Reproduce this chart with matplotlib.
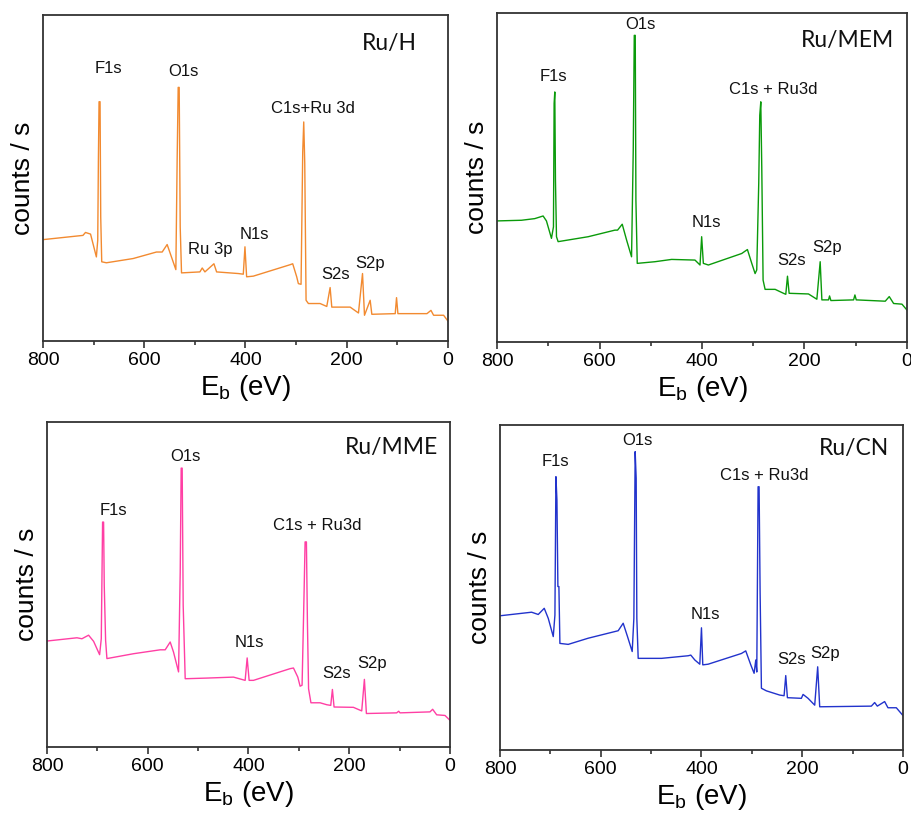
import matplotlib
matplotlib.use("Agg")
import matplotlib.pyplot as plt
from matplotlib.ticker import MultipleLocator

# ------------------ Survey spectra (traced, counts in a.u.) ------------------
h_ev = [800, 721, 716, 706, 694.5, 691.8, 690.5, 689.2, 687.2, 685.9, 683.9, 674.7,
        621.9, 575.8, 564.5, 554.7, 537.5, 534.9, 532.9, 530.9, 528.9, 526.3, 490.0,
        485.4, 480.1, 462.3, 457.0, 414.2, 404.3, 401.0, 397.7, 384.5, 312.0, 306.7,
        298.8, 295.5, 290.2, 286.9, 284.9, 282.9, 280.3, 275.7, 252.6, 239.4, 232.8,
        229.5, 193.2, 176.8, 168.8, 164.9, 153.7, 150.4, 104.2, 101.6, 98.9, 41.5,
        33.6, 28.4, 8.6, 0]
h_counts = [31.1, 32.4, 33.3, 32.8, 25.8, 30.9, 55.5, 73.4, 73.4, 38.1, 24.3, 24.0,
            25.3, 27.3, 27.3, 29.6, 21.9, 56.0, 77.8, 77.8, 35.0, 20.9, 21.2,
            22.4, 21.2, 23.7, 21.2, 20.7, 20.5, 28.9, 19.7, 19.9, 23.4, 23.7,
            19.7, 17.6, 17.4, 58.0, 67.2, 54.5, 12.5, 11.5, 11.5, 10.6, 16.4,
            10.4, 10.4, 8.6, 20.7, 7.9, 12.5, 8.2, 8.4, 13.3, 8.4, 8.4,
            9.4, 7.9, 7.9, 6.1]

mem_ev = [800, 752.4, 726.4, 710.1, 703.6, 693.8, 689.9, 688.6, 687.3, 686.0, 684.0,
          680.8, 622.1, 570.0, 564.8, 555.7, 547.2, 537.5, 534.2, 532.2, 530.3, 529.0,
          526.4, 491.9, 459.3, 413.7, 403.9, 400.7, 397.4, 387.6, 322.5, 311.4, 302.9,
          296.4, 293.2, 289.3, 287.3, 285.3, 283.4, 280.8, 276.9, 257.3, 241.0, 236.5,
          233.2, 230.0, 192.2, 175.9, 169.4, 166.1, 153.1, 151.1, 148.5, 104.2, 101.6,
          99.0, 42.4, 34.6, 26.1, 9.8, 0]
mem_counts = [36.8, 37.0, 37.5, 38.3, 36.8, 31.5, 35.0, 72.5, 76.0, 49.2, 32.0,
              30.5, 32.0, 34.0, 34.0, 35.8, 31.0, 25.9, 58.3, 93.2, 93.2, 43.1,
              23.9, 24.4, 25.1, 24.9, 23.4, 32.0, 23.9, 23.4, 26.9, 28.1, 23.9,
              20.8, 21.9, 48.2, 68.9, 73.0, 53.2, 18.8, 16.0, 16.0, 14.8, 14.5,
              20.0, 14.8, 14.6, 13.0, 24.4, 12.8, 12.8, 14.0, 12.6, 12.8, 14.3,
              12.8, 12.4, 13.8, 11.7, 11.5, 9.7]

mme_ev = [800, 740.5, 730.6, 717.4, 707.4, 695.5, 692.2, 689.6, 687.6, 686.3, 683.6,
          681.0, 628.1, 575.2, 565.3, 555.4, 548.8, 538.8, 535.5, 533.6, 531.6, 529.6,
          525.6, 482.6, 429.8, 406.6, 402.6, 398.7, 390.1, 317.4, 310.7, 302.1, 297.5,
          293.6, 289.6, 287.6, 285.0, 283.0, 280.7, 276.0, 257.9, 244.6, 236.7, 233.4,
          230.1, 191.7, 175.2, 169.9, 165.9, 105.8, 101.8, 99.2, 39.7, 34.4, 26.4,
          9.9, 0]
mme_counts = [32.6, 33.6, 33.3, 34.4, 32.5, 28.4, 33.3, 69.2, 69.2, 49.7, 32.8,
              27.2, 28.7, 29.9, 29.9, 32.3, 29.2, 23.1, 53.8, 85.8, 85.8, 43.6,
              21.0, 21.2, 21.5, 20.5, 27.4, 20.5, 20.5, 24.1, 24.3, 21.5, 18.7,
              19.0, 47.7, 63.1, 63.1, 38.5, 17.9, 13.6, 13.6, 13.0, 12.8, 17.7,
              12.3, 12.2, 11.1, 20.8, 10.3, 10.5, 11.0, 10.5, 10.8, 11.6, 9.9,
              9.7, 8.2]

cn_ev = [800, 737.2, 724.0, 712.1, 704.1, 694.2, 690.9, 688.9, 686.9, 685.0, 683.0,
         681.0, 664.5, 624.8, 565.3, 555.4, 546.8, 537.5, 534.2, 531.6, 529.6, 528.3,
         525.6, 479.3, 426.4, 421.2, 413.2, 403.3, 400.0, 397.4, 386.8, 320.7, 312.1,
         302.1, 295.5, 292.2, 290.2, 287.6, 285.6, 283.6, 281.0, 271.1, 244.6, 236.0,
         232.7, 229.4, 201.7, 198.3, 188.4, 175.2, 169.3, 165.3, 62.8, 56.2, 50.9,
         36.4, 29.8, 13.2, 0]
cn_counts = [41.3, 42.4, 41.7, 43.6, 40.5, 34.9, 41.5, 84.1, 76.9, 50.3, 50.3,
             32.8, 32.5, 34.4, 36.7, 39.0, 34.9, 30.3, 40.5, 91.8, 83.6, 40.5,
             28.2, 28.2, 29.0, 29.2, 27.7, 26.4, 37.6, 26.2, 26.4, 29.7, 30.5,
             26.2, 23.6, 27.7, 24.0, 81.0, 81.0, 48.7, 19.0, 18.2, 16.9, 16.7,
             22.9, 16.1, 15.9, 17.1, 15.9, 13.8, 25.6, 13.3, 13.5, 14.6, 13.5,
             14.9, 13.0, 13.0, 10.6]

samples = ["Ru/H", "Ru/MEM", "Ru/MME", "Ru/CN"]
colors = ["#F28A30", "#0A9A0A", "#FF3FA4", "#2233CC"]
x_ticks = [800, 600, 400, 200, 0]

# peak labels: (text, eV, counts) for each panel
h_labels = [("F1s", 671, 83.6), ("O1s", 523, 82.8), ("C1s+Ru 3d", 266, 71.3),
            ("Ru 3p", 470, 28.0), ("N1s", 383, 32.6), ("S2s", 222, 20.5),
            ("S2p", 154, 23.7)]
mem_labels = [("F1s", 689, 80.8), ("O1s", 521, 96.5), ("C1s + Ru3d", 261, 76.7),
              ("N1s", 391, 36.2), ("S2s", 225, 24.9), ("S2p", 156, 28.7)]
mme_labels = [("F1s", 668, 72.7), ("O1s", 526, 89.5), ("C1s + Ru3d", 264, 68.2),
              ("N1s", 398, 32.1), ("S2s", 226, 22.6), ("S2p", 155, 25.6)]
cn_labels = [("F1s", 689, 88.7), ("O1s", 528, 95.1), ("C1s + Ru3d", 276, 84.6),
             ("N1s", 393, 41.7), ("S2s", 222, 27.7), ("S2p", 155, 29.7)]

spectra = [(h_ev, h_counts, h_labels), (mem_ev, mem_counts, mem_labels),
           (mme_ev, mme_counts, mme_labels), (cn_ev, cn_counts, cn_labels)]

# axes boxes in figure fraction [left, bottom, width, height]
boxes = [[0.0471, 0.5826, 0.4441, 0.3990],
         [0.5450, 0.5814, 0.4495, 0.4027],
         [0.0515, 0.0857, 0.4419, 0.3978],
         [0.5482, 0.0820, 0.4419, 0.3978]]
# where the sample name sits (axes fraction, right-aligned)
name_pos = [(0.923, 0.914), (0.968, 0.915), (0.970, 0.923), (0.965, 0.929)]

fig = plt.figure(figsize=(9.12, 8.17), dpi=100)

for i in range(4):
    ev, counts, labels = spectra[i]
    ax = fig.add_axes(boxes[i])
    ax.plot(ev, counts, color=colors[i], lw=1.0)

    ax.set_xlim(800, 0)
    ax.set_ylim(0, 100)
    ax.set_xticks(x_ticks)
    ax.xaxis.set_minor_locator(MultipleLocator(100))
    ax.set_yticks([])
    ax.tick_params(axis="x", which="major", direction="out", length=5, width=1.2,
                   color="#333333", labelsize=14, pad=3)
    ax.tick_params(axis="x", which="minor", direction="out", length=3, width=1.2,
                   color="#333333")
    for lbl in ax.get_xticklabels():
        lbl.set_family("Liberation Sans")
    for sp in ax.spines.values():
        sp.set_color("#333333")
        sp.set_linewidth(1.3)

    ax.set_xlabel(r"E$_\mathregular{b}$ (eV)", fontsize=20, family="Liberation Sans",
                  labelpad=3)
    ax.set_ylabel("counts / s", fontsize=19, family="Liberation Sans", labelpad=6)

    # sample name in the upper right corner
    ax.text(name_pos[i][0], name_pos[i][1], samples[i], transform=ax.transAxes,
            ha="right", va="center", fontsize=16.5, family="Lato", color="#111111")

    # peak assignments
    for txt, x, y in labels:
        ax.text(x, y, txt, ha="center", va="center", fontsize=12,
                family="Liberation Sans", color="#111111")

fig.savefig("out.png", dpi=100)
